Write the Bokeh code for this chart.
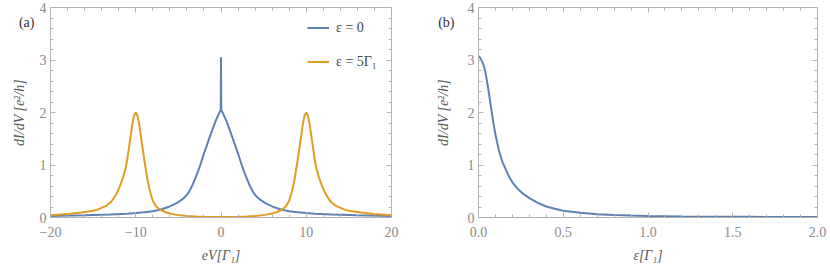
from bokeh.plotting import figure
from bokeh.layouts import row
from bokeh.models import (Range1d, LinearAxis, SingleIntervalTicker, FixedTicker,
                          Legend, LegendItem, NumeralTickFormatter, CustomJSTickFormatter)
from bokeh.embed import file_html
from bokeh.resources import INLINE

# ---------------- data ----------------
# panel (a), epsilon = 0
blue_x = [-20, -16, -13, -11, -10, -9, -8, -7.13, -6.34, -6.0, -5.5, -5.0, -4.6, -4.3,
          -4.0, -3.75, -3.5, -3.25, -3.0, -2.7, -2.43, -2.0, -1.75, -1.5, -1.25, -1.0,
          -0.8, -0.6, -0.3, -0.03,
          0,
          0.03, 0.3, 0.6, 0.8, 1.0, 1.25, 1.5, 1.75, 2.0, 2.43, 2.7, 3.0, 3.25, 3.5,
          3.75, 4.0, 4.3, 4.6, 5.0, 5.5, 6.0, 6.34, 7.13, 8, 9, 10, 11, 13, 16, 20]
blue_y = [0.03, 0.042, 0.055, 0.072, 0.085, 0.10, 0.12, 0.147, 0.19, 0.213, 0.25, 0.295, 0.34, 0.38,
          0.43, 0.49, 0.565, 0.655, 0.755, 0.88, 1.00, 1.22, 1.33, 1.45, 1.565, 1.68,
          1.765, 1.85, 1.96, 2.05,
          3.05,
          2.05, 1.96, 1.85, 1.765, 1.68, 1.565, 1.45, 1.33, 1.22, 1.00, 0.88, 0.755, 0.655, 0.565,
          0.49, 0.43, 0.38, 0.34, 0.295, 0.25, 0.213, 0.19, 0.147, 0.12, 0.10, 0.085, 0.072, 0.055, 0.042, 0.03]

# panel (a), epsilon = 5 Gamma_1
orange_x = [-20, -18, -16.4, -15, -14.4, -13.5, -13, -12.6, -12.2, -11.8, -11.5, -11.2,
            -11.0, -10.8, -10.6, -10.4, -10.2, -10.0, -9.8, -9.6, -9.4, -9.2, -9.0,
            -8.8, -8.6, -8.3, -8.0, -7.6, -7.13, -6.5, -6, -5.2, -4, -3, -2, -1, 0,
            1, 2, 3, 4, 5.2, 6, 6.5, 7.13, 7.6, 8.0, 8.3, 8.6, 8.8, 9.0, 9.2, 9.4,
            9.6, 9.8, 10.0, 10.2, 10.4, 10.6, 10.8, 11.0, 11.2, 11.5, 11.8, 12.2,
            12.6, 13, 13.5, 14.4, 15, 16.4, 18, 20]
orange_y = [0.045, 0.065, 0.095, 0.13, 0.155, 0.22, 0.28, 0.36, 0.47, 0.62, 0.76, 0.93,
            1.1, 1.32, 1.55, 1.78, 1.94, 2.0, 1.94, 1.78, 1.55, 1.32, 1.1,
            0.9, 0.70, 0.48, 0.32, 0.21, 0.147, 0.10, 0.075, 0.05, 0.03, 0.02, 0.014, 0.011, 0.01,
            0.011, 0.014, 0.02, 0.03, 0.05, 0.075, 0.10, 0.147, 0.21, 0.32, 0.48, 0.70, 0.9, 1.1, 1.32, 1.55,
            1.78, 1.94, 2.0, 1.94, 1.78, 1.55, 1.32, 1.1, 0.93, 0.76, 0.62, 0.47,
            0.36, 0.28, 0.22, 0.155, 0.13, 0.095, 0.065, 0.045]

# panel (b)
eps_x = [0, 0.01, 0.02, 0.03, 0.04, 0.05, 0.06, 0.07, 0.08, 0.09, 0.10, 0.12, 0.14,
         0.16, 0.18, 0.20, 0.23, 0.26, 0.30, 0.35, 0.40, 0.45, 0.50, 0.6, 0.7, 0.8,
         0.9, 1.0, 1.2, 1.4, 1.6, 1.8, 2.0]
eps_y = [3.08, 3.04, 2.98, 2.90, 2.78, 2.60, 2.40, 2.18, 1.97, 1.76, 1.58, 1.28, 1.07,
         0.92, 0.78, 0.67, 0.55, 0.46, 0.37, 0.28, 0.21, 0.165, 0.13, 0.09, 0.062, 0.046,
         0.036, 0.029, 0.02, 0.015, 0.012, 0.010, 0.008]

legend_labels = ["ε = 0", "ε = 5Γ₁"]
a_xticks_overrides = {-20: "−20", -10: "−10"}
panel_tags = ["(a)", "(b)"]
tag_level = 3.72

BLUE = "#5E81B5"
ORANGE = "#E19C24"
FRAME = "#b4b4b4"
TICKTXT = "#8a8a8a"
LABTXT = "#5a5a5a"
SERIF = "Liberation Serif"


def style_axes(p, xstep, ystep, xfmt=None, overrides=None):
    bottom = p.below[0]
    left = p.left[0]
    bottom.ticker = SingleIntervalTicker(interval=xstep, num_minor_ticks=5)
    left.ticker = SingleIntervalTicker(interval=ystep, num_minor_ticks=5)
    top = LinearAxis(ticker=SingleIntervalTicker(interval=xstep, num_minor_ticks=5),
                     formatter=CustomJSTickFormatter(code="return ''"),
                     major_label_standoff=0)
    right = LinearAxis(ticker=SingleIntervalTicker(interval=ystep, num_minor_ticks=5),
                       formatter=CustomJSTickFormatter(code="return ''"),
                       major_label_standoff=0)
    p.add_layout(top, "above")
    p.add_layout(right, "right")
    for ax in [bottom, left, top, right]:
        ax.axis_line_color = FRAME
        ax.axis_line_width = 1
        ax.major_tick_line_color = FRAME
        ax.minor_tick_line_color = FRAME
        ax.major_tick_in = 5
        ax.major_tick_out = 0
        ax.minor_tick_in = 3
        ax.minor_tick_out = 0
    for ax in [bottom, left]:
        ax.major_label_text_color = TICKTXT
        ax.major_label_text_font = SERIF
        ax.major_label_text_font_size = "14px"
        ax.axis_label_text_font = SERIF
        ax.axis_label_text_color = LABTXT
        ax.axis_label_text_font_style = "italic"
        ax.axis_label_text_font_size = "14px"
    bottom.major_label_standoff = 9
    left.major_label_standoff = 4
    bottom.axis_label_standoff = 8
    if xfmt:
        bottom.formatter = NumeralTickFormatter(format=xfmt)
    if overrides:
        bottom.major_label_overrides = overrides
    return bottom, left


def tag(p, text, standoff):
    # panel tag "(a)"/"(b)" drawn as the single label of an extra, invisible left axis
    ax = LinearAxis(ticker=FixedTicker(ticks=[tag_level], minor_ticks=[]),
                    major_label_overrides={tag_level: text},
                    axis_line_color=None, major_tick_line_color=None,
                    minor_tick_line_color=None, major_tick_in=0, major_tick_out=0,
                    minor_tick_in=0, minor_tick_out=0,
                    major_label_standoff=standoff,
                    major_label_text_font=SERIF, major_label_text_font_size="14px",
                    major_label_text_color="#333333")
    p.add_layout(ax, "left")


# ---------------- panel (a) ----------------
pa = figure(width=420, height=268, output_backend="svg", toolbar_location=None,
            x_range=Range1d(-20, 20), y_range=Range1d(0, 4),
            min_border_left=50, min_border_right=29, min_border_top=7,
            min_border_bottom=51)
pa.grid.visible = False
pa.outline_line_color = None
ra = pa.line(blue_x, blue_y, line_color=BLUE, line_width=2)
rb = pa.line(orange_x, orange_y, line_color=ORANGE, line_width=2)
pa.xaxis.axis_label = "eV[Γ₁]"
pa.yaxis.axis_label = "dI/dV [e²/h]"
ba, la = style_axes(pa, 10, 1, overrides=a_xticks_overrides)
la.axis_label_standoff = 10
tag(pa, panel_tags[0], -26)

leg = Legend(items=[LegendItem(label=legend_labels[0], renderers=[ra]),
                    LegendItem(label=legend_labels[1], renderers=[rb])],
             location=(257, 147), padding=0, margin=0, spacing=17,
             glyph_width=22, glyph_height=17, label_height=17, label_standoff=7,
             border_line_color=None, background_fill_alpha=0,
             label_text_font=SERIF, label_text_font_size="14px",
             label_text_color="#444444")
pa.add_layout(leg, "center")

# ---------------- panel (b) ----------------
pb = figure(width=410, height=268, output_backend="svg", toolbar_location=None,
            x_range=Range1d(0, 2), y_range=Range1d(0, 4),
            min_border_left=58, min_border_right=13, min_border_top=7,
            min_border_bottom=51)
pb.grid.visible = False
pb.outline_line_color = None
pb.line(eps_x, eps_y, line_color=BLUE, line_width=2)
pb.xaxis.axis_label = "ε[Γ₁]"
pb.yaxis.axis_label = "dI/dV [e²/h]"
bb, lb = style_axes(pb, 0.5, 1, xfmt="0.0")
lb.axis_label_standoff = 14
tag(pb, panel_tags[1], -22)

layout = row(pa, pb, spacing=0)
open("out.html", "w").write(file_html(layout, INLINE))
